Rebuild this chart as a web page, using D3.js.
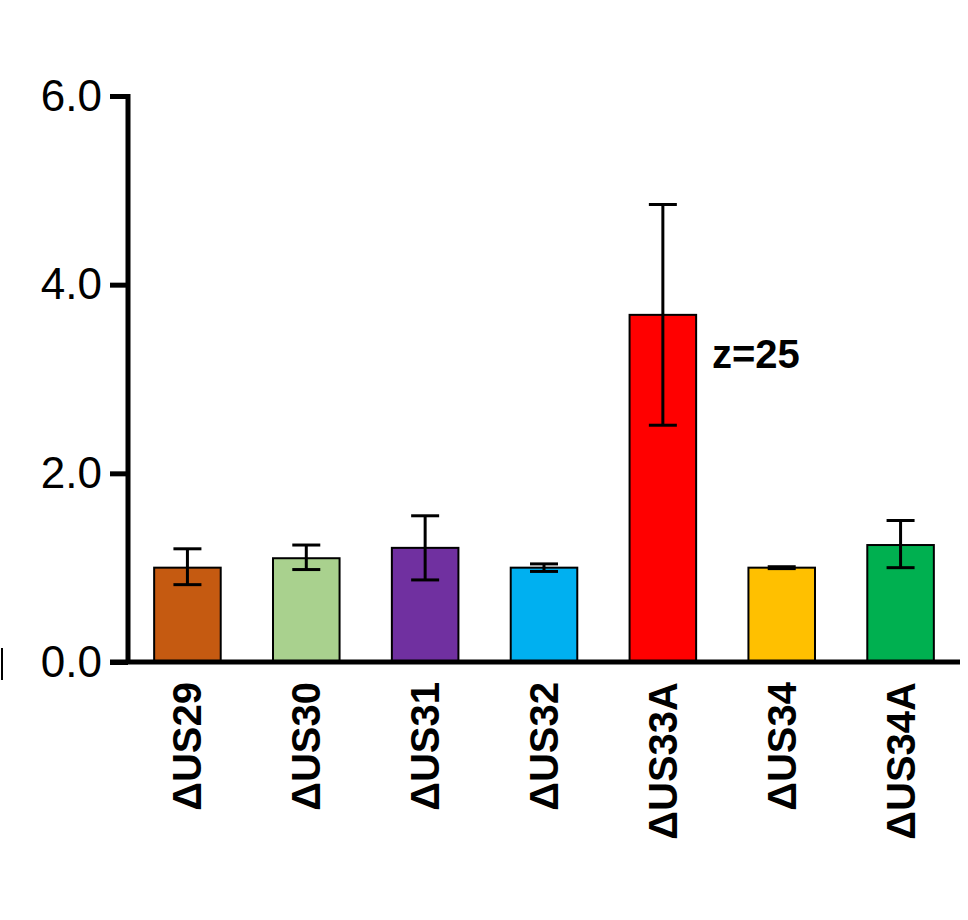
<!DOCTYPE html>
<html><head><meta charset="utf-8">
<script src="https://cdn.jsdelivr.net/npm/d3@7"></script>
<style>body{margin:0;background:#fff}</style></head>
<body><svg id="c" width="968" height="920"></svg>
<script>
const categories=["ΔUS29","ΔUS30","ΔUS31","ΔUS32","ΔUS33A","ΔUS34","ΔUS34A"];
const values=[1.0,1.1,1.21,1.0,3.68,1.0,1.24];
const errLow=[0.82,0.98,0.87,0.96,2.51,0.99,1.0];
const errHigh=[1.2,1.24,1.55,1.04,4.85,1.01,1.5];
const colors=["#c55a11","#a9d18e","#7030a0","#00b0f0","#ff0000","#ffc000","#00b050"];
const yTicks=[0,2,4,6];
const svg=d3.select("#c");
const x=d3.scaleBand().domain(categories).range([128,960]).paddingInner(0.44).paddingOuter(0.22);
const y=d3.scaleLinear().domain([0,6]).range([662,96]);
const g=svg.append("g");
g.selectAll("rect").data(categories).join("rect")
 .attr("x",d=>x(d)).attr("width",x.bandwidth())
 .attr("y",(d,i)=>y(values[i])).attr("height",(d,i)=>y(0)-y(values[i]))
 .attr("fill",(d,i)=>colors[i]).attr("stroke","#000").attr("stroke-width",2);
const eg=g.selectAll("g.e").data(categories).join("g");
eg.append("line").attr("x1",d=>x(d)+x.bandwidth()/2).attr("x2",d=>x(d)+x.bandwidth()/2)
 .attr("y1",(d,i)=>y(errLow[i])).attr("y2",(d,i)=>y(errHigh[i])).attr("stroke","#000").attr("stroke-width",3);
[errLow,errHigh].forEach(arr=>eg.append("line").attr("x1",d=>x(d)+x.bandwidth()/2-14).attr("x2",d=>x(d)+x.bandwidth()/2+14)
 .attr("y1",(d,i)=>y(arr[i])).attr("y2",(d,i)=>y(arr[i])).attr("stroke","#000").attr("stroke-width",3));
const ya=svg.append("g").attr("transform","translate(128,0)").call(d3.axisLeft(y).tickValues(yTicks).tickSize(18).tickPadding(8));
ya.select(".domain").attr("stroke-width",5).attr("d","M0,664V94");
ya.selectAll(".tick line").attr("stroke-width",5);
ya.selectAll("text").attr("font-family","Liberation Sans, Arial").attr("font-size",44).attr("fill","#000");
svg.append("line").attr("x1",110).attr("x2",960).attr("y1",662).attr("y2",662).attr("stroke","#000").attr("stroke-width",5);
svg.selectAll("text.cat").data(categories).join("text").attr("class","cat")
 .attr("transform",d=>`translate(${x(d)+x.bandwidth()/2+14},682) rotate(-90)`)
 .attr("text-anchor","end").attr("font-family","Liberation Sans, Arial").attr("font-weight","bold").attr("font-size",40).text(d=>d);
svg.append("text").attr("x",712).attr("y",368).attr("font-family","Liberation Sans, Arial").attr("font-weight","bold").attr("font-size",40).text("z=25");
svg.append("line").attr("x1",2).attr("x2",2).attr("y1",648).attr("y2",680).attr("stroke","#000").attr("stroke-width",2);
</script></body></html>
